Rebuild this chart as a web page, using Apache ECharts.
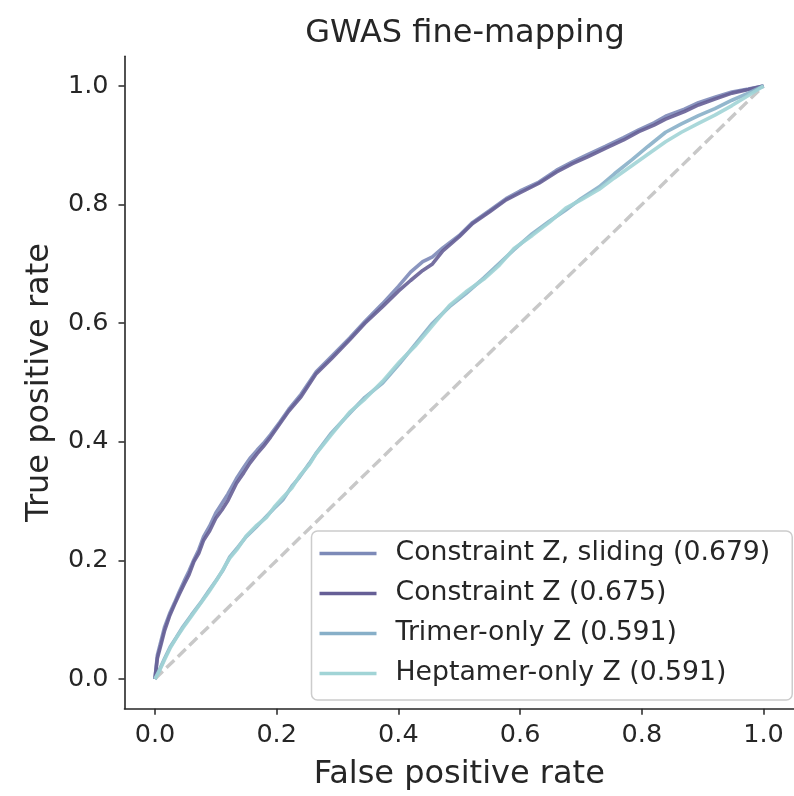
<!DOCTYPE html>
<html>
<head>
<meta charset="utf-8">
<script src="https://cdn.jsdelivr.net/npm/echarts@6/dist/echarts.min.js"></script>
<style>
html,body{margin:0;padding:0;background:#fff;}
#chart{width:794px;height:796px;}
</style>
</head>
<body>
<div id="chart"></div>
<script>
// ---------- data ----------
const seriesNames = [
  "Constraint Z, sliding (0.679)",
  "Constraint Z (0.675)",
  "Trimer-only Z (0.591)",
  "Heptamer-only Z (0.591)"
];

const fprSliding = [0, 0.004, 0.010, 0.016, 0.024, 0.032, 0.040, 0.048, 0.056, 0.064, 0.072, 0.080, 0.090, 0.100, 0.110, 0.120, 0.134, 0.146, 0.156, 0.168, 0.178, 0.190, 0.205, 0.220, 0.240, 0.265, 0.290, 0.320, 0.345, 0.374, 0.400, 0.420, 0.440, 0.456, 0.473, 0.500, 0.522, 0.550, 0.577, 0.600, 0.631, 0.660, 0.686, 0.710, 0.740, 0.770, 0.795, 0.820, 0.839, 0.870, 0.893, 0.920, 0.948, 0.975, 1.0];
const tprSliding = [0, 0.040, 0.064, 0.088, 0.110, 0.128, 0.147, 0.165, 0.182, 0.201, 0.218, 0.240, 0.258, 0.280, 0.296, 0.312, 0.338, 0.357, 0.372, 0.386, 0.397, 0.412, 0.433, 0.455, 0.480, 0.518, 0.544, 0.575, 0.603, 0.633, 0.662, 0.686, 0.704, 0.712, 0.727, 0.748, 0.770, 0.790, 0.810, 0.823, 0.838, 0.858, 0.872, 0.884, 0.898, 0.913, 0.926, 0.938, 0.949, 0.961, 0.972, 0.981, 0.990, 0.995, 1.0];

const fprConstraint = [0, 0.004, 0.010, 0.016, 0.024, 0.032, 0.040, 0.048, 0.056, 0.064, 0.072, 0.080, 0.090, 0.100, 0.110, 0.120, 0.134, 0.146, 0.156, 0.168, 0.178, 0.190, 0.205, 0.220, 0.240, 0.265, 0.290, 0.320, 0.345, 0.374, 0.400, 0.420, 0.440, 0.456, 0.473, 0.500, 0.522, 0.550, 0.577, 0.600, 0.631, 0.660, 0.686, 0.710, 0.740, 0.770, 0.795, 0.820, 0.839, 0.870, 0.893, 0.920, 0.948, 0.975, 1.0];
const tprConstraint = [0, 0.035, 0.058, 0.082, 0.106, 0.125, 0.143, 0.160, 0.176, 0.198, 0.212, 0.234, 0.250, 0.271, 0.285, 0.301, 0.330, 0.348, 0.364, 0.380, 0.392, 0.408, 0.430, 0.452, 0.476, 0.515, 0.540, 0.572, 0.600, 0.628, 0.654, 0.672, 0.689, 0.700, 0.722, 0.746, 0.768, 0.788, 0.808, 0.820, 0.836, 0.855, 0.869, 0.880, 0.895, 0.909, 0.923, 0.934, 0.944, 0.957, 0.968, 0.978, 0.988, 0.994, 1.0];

const fprTrimer = [0, 0.008, 0.016, 0.025, 0.035, 0.046, 0.060, 0.074, 0.088, 0.101, 0.112, 0.123, 0.136, 0.150, 0.166, 0.183, 0.196, 0.210, 0.225, 0.238, 0.254, 0.265, 0.290, 0.320, 0.345, 0.374, 0.402, 0.429, 0.456, 0.484, 0.511, 0.540, 0.566, 0.590, 0.620, 0.648, 0.675, 0.700, 0.730, 0.755, 0.784, 0.810, 0.839, 0.865, 0.893, 0.920, 0.948, 0.975, 1.0];
const tprTrimer = [0, 0.017, 0.035, 0.054, 0.070, 0.088, 0.108, 0.127, 0.148, 0.167, 0.184, 0.206, 0.222, 0.240, 0.256, 0.274, 0.288, 0.302, 0.325, 0.341, 0.364, 0.381, 0.415, 0.448, 0.475, 0.499, 0.532, 0.566, 0.600, 0.628, 0.650, 0.676, 0.701, 0.724, 0.751, 0.772, 0.791, 0.810, 0.830, 0.852, 0.876, 0.898, 0.922, 0.936, 0.950, 0.962, 0.976, 0.988, 1.0];

const fprHeptamer = [0, 0.008, 0.016, 0.025, 0.035, 0.046, 0.060, 0.074, 0.088, 0.101, 0.112, 0.123, 0.136, 0.150, 0.166, 0.183, 0.196, 0.210, 0.225, 0.238, 0.254, 0.265, 0.290, 0.320, 0.345, 0.374, 0.402, 0.429, 0.456, 0.484, 0.511, 0.540, 0.566, 0.590, 0.620, 0.648, 0.675, 0.700, 0.730, 0.755, 0.784, 0.810, 0.839, 0.865, 0.893, 0.920, 0.948, 0.975, 1.0];
const tprHeptamer = [0, 0.015, 0.033, 0.052, 0.069, 0.086, 0.106, 0.126, 0.146, 0.166, 0.185, 0.204, 0.220, 0.241, 0.258, 0.272, 0.290, 0.306, 0.322, 0.343, 0.362, 0.380, 0.412, 0.450, 0.472, 0.502, 0.535, 0.563, 0.596, 0.630, 0.653, 0.674, 0.698, 0.726, 0.748, 0.770, 0.794, 0.808, 0.826, 0.845, 0.866, 0.885, 0.906, 0.922, 0.937, 0.951, 0.967, 0.984, 1.0];

const diagX = [0, 1];
const diagY = [0, 1];

const tickValues = [0, 0.2, 0.4, 0.6, 0.8, 1.0];

// ---------- styling ----------
const FONT = "DejaVu Sans";
const TXT = "#262626";
const colors = ["#7d8ab8", "#665f96", "#87afc8", "#a1d4d6"];

function pairs(xs, ys) { return xs.map((x, i) => [x, ys[i]]); }

const curves = [
  [fprSliding, tprSliding],
  [fprConstraint, tprConstraint],
  [fprTrimer, tprTrimer],
  [fprHeptamer, tprHeptamer]
];

const axisCommon = {
  type: "value",
  min: -0.05,
  max: 1.05,
  splitLine: { show: false },
  axisLine: { show: true, onZero: false, lineStyle: { color: TXT, width: 1.6 } },
  axisTick: { show: true, length: 6, inside: false, customValues: tickValues, lineStyle: { color: TXT, width: 1.5 } },
  axisLabel: { customValues: tickValues, fontFamily: FONT, fontSize: 25.5, color: TXT, formatter: v => v.toFixed(1) },
  nameLocation: "middle",
  nameTextStyle: { fontFamily: FONT, fontSize: 32, color: TXT }
};

const series = [{
  type: "line",
  name: "diag",
  data: pairs(diagX, diagY),
  showSymbol: false,
  symbol: "none",
  silent: true,
  lineStyle: { color: "#c8c8c8", width: 3.4, type: [11, 5] },
  z: 1
}].concat(curves.map((c, i) => ({
  type: "line",
  name: seriesNames[i],
  data: pairs(c[0], c[1]),
  showSymbol: false,
  symbol: "none",
  itemStyle: { color: colors[i] },
  lineStyle: { color: colors[i], width: 3.6, opacity: 0.9 },
  z: 2 + i
})));

const option = {
  animation: false,
  backgroundColor: "#ffffff",
  title: {
    text: "GWAS fine-mapping",
    left: 460,
    textAlign: "center",
    top: 13,
    textStyle: { fontFamily: FONT, fontSize: 32, fontWeight: "normal", color: TXT }
  },
  grid: { left: 124.5, right: -1.5, top: 56.35, bottom: 87.35, containLabel: false },
  xAxis: Object.assign({}, axisCommon, {
    name: "False positive rate",
    nameGap: 50,
    axisLabel: Object.assign({}, axisCommon.axisLabel, { margin: 14 })
  }),
  yAxis: Object.assign({}, axisCommon, {
    name: "True positive rate",
    nameGap: 69,
    axisLabel: Object.assign({}, axisCommon.axisLabel, { margin: 16 })
  }),
  legend: {
    data: seriesNames,
    orient: "vertical",
    left: 311.5,
    top: 531,
    icon: "rect",
    itemWidth: 57,
    itemHeight: 3.5,
    itemGap: 13,
    padding: [9, 22, 13, 8],
    backgroundColor: "rgba(255,255,255,0.85)",
    borderColor: "#cccccc",
    borderWidth: 1.5,
    borderRadius: 6,
    selectedMode: false,
    textStyle: { fontFamily: FONT, fontSize: 26.7, color: TXT, lineHeight: 26, padding: [0, 0, 0, 14] }
  },
  series: series
};

const chart = echarts.init(document.getElementById("chart"), null, { renderer: "canvas" });
chart.setOption(option);
</script>
</body>
</html>
